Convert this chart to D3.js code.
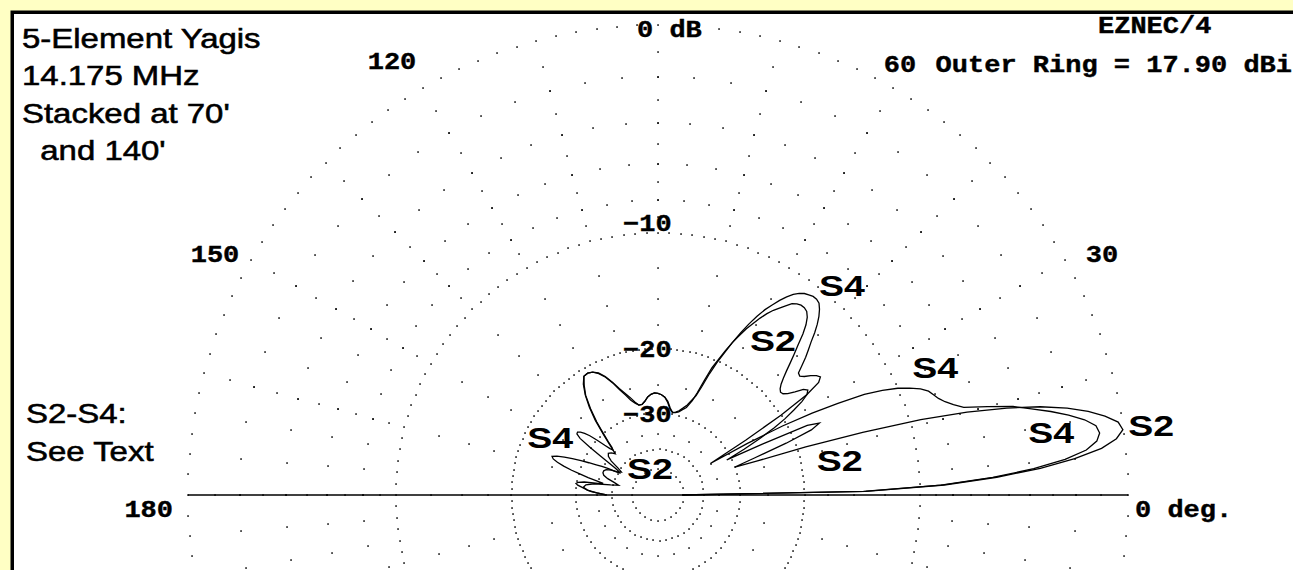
<!DOCTYPE html>
<html>
<head>
<meta charset="utf-8">
<script src="https://cdn.jsdelivr.net/npm/d3@7"></script>
<style>
  html, body { margin: 0; padding: 0; background: #FFFFC4; }
  svg { display: block; }
</style>
</head>
<body>
<svg id="chart" width="1293" height="570"></svg>
<script>
// ---- pattern data: elevation angle (deg) and gain relative to outer ring (dB) ----
const s2Angles = [0,1,2,3,4,5,6,7,8,9,10,11,12,13,14,15,16,17,18,19,20,21,22,23,24,25,26,27,28,29,30,31,32,33,34,35,36,37,38,39,40,41,42,43,44,45,46,47,48,49,50,51,52,53,54,55,56,57,58,59,60,61,62,63,64,65,66,67,68,69,70,72,74,76,78,80,82,84,86,88,90,92,94,96,98,100,102,104,106,108,110,112,114,116,118,120,122,124,126,128,130,132,134,136,138,140,142,144,146,148,150,152,154,156,158,160,162,164,166,168,170,172,174,176,178,180];
const s2Gain = [-51,-14,-8.5,-5.6,-3.5,-2.0,-0.9,-0.3,-0.02,-0.15,-0.6,-1.2,-2.0,-3.1,-4.6,-6.6,-9.3,-13.5,-19,-26,-30,-26,-21,-17.8,-16.8,-18,-24,-31,-27,-24,-21.5,-19.8,-18.5,-17.3,-16.5,-16.2,-16.5,-17.3,-18,-18.4,-18.5,-18.3,-17.9,-17.3,-16.6,-15.8,-15.0,-14.2,-13.3,-12.6,-12.1,-11.8,-11.7,-11.7,-11.8,-12.0,-12.4,-12.8,-13.2,-13.7,-14.3,-15.0,-15.7,-16.6,-17.5,-18.6,-19.8,-21,-23,-25,-26.5,-28,-28.6,-29.2,-29.5,-29.6,-29,-27.8,-26.9,-26.5,-26.3,-26.2,-26.4,-26.8,-27.5,-28,-28,-27.5,-26.8,-25.7,-24.6,-23.3,-22.2,-21.4,-20.9,-20.7,-20.8,-21.6,-22.9,-24.7,-27,-30,-33,-35.5,-34.5,-34,-34.5,-36,-39,-41,-40,-37.5,-36,-35.5,-35.5,-36,-37.5,-40,-42,-39,-34,-32,-31.5,-32.5,-35,-38];

const s4Angles = [0,1,2,3,4,5,6,7,8,9,10,11,12,13,14,15,16,17,18,19,20,21,22,23,24,25,26,27,28,29,30,31,32,33,34,35,36,37,38,39,40,41,42,43,44,45,46,47,48,49,50,51,52,53,54,55,56,57,58,59,60,61,62,63,64,65,66,67,68,69,70,72,74,76,78,80,82,84,86,88,90,92,94,96,98,100,102,104,106,108,110,112,114,116,118,120,122,124,126,128,129,130,131,132,133,134,135,136,137,138,139,140,141,142,143,144,145,146,147,148,149,150,151,152,153,154,155,156,157,158,159,160,161,162,163,164,165,166,167,168,169,170,171,172,173,174,175,176,177,178,179,180];
const s4Gain = [-51,-14.2,-8.7,-5.8,-3.8,-2.4,-1.5,-1.05,-0.9,-1.0,-1.4,-2.0,-2.7,-3.5,-4.3,-5.5,-6.7,-7.2,-7.6,-7.9,-8.1,-8.3,-8.7,-9.3,-10.0,-11.0,-12.3,-14.5,-17,-20.5,-26,-35,-26,-20,-16.5,-15.0,-14.6,-14.8,-15.2,-15.7,-16.0,-15.9,-15.2,-14.5,-13.9,-13.3,-12.6,-12.0,-11.5,-11.1,-10.8,-10.7,-10.7,-10.8,-10.9,-11.1,-11.4,-11.8,-12.3,-12.9,-13.5,-14.3,-15.2,-16.3,-17.5,-18.9,-20.2,-21.8,-23.9,-25.5,-26.2,-27.5,-28.3,-29,-29.4,-29.6,-28.8,-27.6,-26.9,-26.5,-26.3,-26.2,-26.4,-26.8,-27.5,-28,-28,-27.3,-26.3,-25.4,-24.4,-23.2,-22.1,-21.3,-20.9,-20.7,-20.8,-21.8,-23.0,-25.0,-26.2,-27.4,-29,-30.5,-32,-33.6,-34.3,-33.5,-32,-30,-28.3,-27.3,-26.6,-26.2,-26.3,-27.2,-29.8,-33,-36,-38.5,-40,-40.5,-39,-36.5,-34.5,-33,-31.2,-29.5,-27.8,-26.4,-25.2,-24.5,-24.8,-25.6,-26.8,-28.4,-30.3,-32.2,-34.5,-36.5,-35,-31.5,-30.2,-29.8,-30.2,-31,-31.8,-32.5,-33.5,-35,-36.5,-38];

// ---- chart furniture ----
const ringLevels = [0, -2, -4, -6, -8, -10, -20, -30, -40, -50];
const spokeAngles = d3.range(0, 360, 15);
const spokeLevels = [-1, -2, -3, -4, -5, -6, -7, -8, -9, -12.5, -15, -17.5, -25, -35];
const ringLabelLevels = [-10, -20, -30];
const ringLabelText = ["\u221210", "\u221220", "\u221230"];
const angleTicks = [0, 30, 60, 120, 150, 180];
const angleTickText = ["0 deg.", "30", "60", "120", "150", "180"];
const titleLines = ["5-Element Yagis", "14.175 MHz", "Stacked at 70'", "  and 140'"];
const noteLines = ["S2-S4:", "See Text"];

// ---- geometry ----
const W = 1293, H = 570;
const cx = 658, cy = 495, R = 470;
const svg = d3.select("#chart");

// ARRL log-periodic radius: each 2 dB shrinks the radius by a factor 0.89.
const rMin = R * Math.pow(0.89, 25);                       // radius of the -50 dB ring
const radius = d3.scaleLog().domain([rMin, R]).range([-50, 0]);
const r = db => radius.invert(db);
// elevation angle (deg, counter-clockwise from +x) -> d3 radial angle (clockwise from up)
const ang = d3.scaleLinear().domain([0, 180]).range([Math.PI / 2, -Math.PI / 2]);
const pt = (deg, db) => {
  const a = ang(deg), rr = r(db);
  return [cx + rr * Math.sin(a), cy - rr * Math.cos(a)];
};

// frame
svg.append("rect").attr("x", 0).attr("y", 0).attr("width", W).attr("height", H).attr("fill", "#FFFFC4");
svg.append("rect").attr("x", 10.5).attr("y", 10.5).attr("width", W).attr("height", H).attr("fill", "#000");
svg.append("rect").attr("x", 14).attr("y", 14).attr("width", W).attr("height", H).attr("fill", "#fff");

const plot = svg.append("g");

// dotted rings
function ringStep(level) {
  if (level === 0 || level === -10 || level === -20) return 2.5;
  if (level === -30) return 5;
  if (level === -40) return 8;
  if (level === -50) return 15;
  return 5;
}
const dots = [];
ringLevels.forEach(lv => {
  const st = ringStep(lv);
  d3.range(0, 360, st).forEach(a => dots.push(pt(a, lv)));
});
spokeAngles.forEach(a => spokeLevels.forEach(lv => dots.push(pt(a, lv))));
plot.append("g").selectAll("rect").data(dots).join("rect")
  .attr("x", d => Math.round(d[0]) - 0.75).attr("y", d => Math.round(d[1]) - 0.75)
  .attr("width", 1.6).attr("height", 1.6).attr("fill", "#111");

// horizon
plot.append("line")
  .attr("x1", pt(180, 0)[0]).attr("y1", cy).attr("x2", pt(0, 0)[0]).attr("y2", cy)
  .attr("stroke", "#000").attr("stroke-width", 1.6);

// pattern traces
const trace = d3.lineRadial()
  .angle(d => ang(d[0]))
  .radius(d => r(d[1]))
  .curve(d3.curveLinear);
const series = [d3.zip(s2Angles, s2Gain), d3.zip(s4Angles, s4Gain)];
plot.append("g").attr("transform", `translate(${cx},${cy})`)
  .selectAll("path").data(series).join("path")
  .attr("d", trace).attr("fill", "none").attr("stroke", "#000").attr("stroke-width", 1.3);

// text helpers
const mono = "'Liberation Mono', 'DejaVu Sans Mono', monospace";
const sans = "'Liberation Sans', Arial, sans-serif";
const MONO_ADV = 16.2;   // rendered advance per character
function monoText(x, y, str, anchor) {
  const w = str.length * MONO_ADV;
  const x0 = anchor === "end" ? x - w : anchor === "middle" ? x - w / 2 : x;
  svg.append("text").attr("x", x0).attr("y", y)
    .attr("font-family", mono).attr("font-weight", "bold").attr("font-size", 24)
    .attr("textLength", w).attr("lengthAdjust", "spacingAndGlyphs")
    .style("white-space", "pre")
    .attr("fill", "#000").attr("stroke", "#000").attr("stroke-width", 0.4).text(str);
}
function sansText(x, y, str, size, sx) {
  svg.append("text").attr("transform", `translate(${x},${y}) scale(${sx},1)`)
    .attr("font-family", sans).attr("font-size", size)
    .style("white-space", "pre").attr("fill", "#000")
    .attr("stroke", "#000").attr("stroke-width", 0.55).text(str);
}

// ring labels
ringLabelLevels.forEach((lv, i) => {
  const y = cy - r(lv) + (lv === -10 ? -2 : 9);
  monoText(cx - 35, y, ringLabelText[i], "start");
});

// angle labels
const tickPos = {0: [1135, 517, "start"], 30: [1102, 262, "middle"], 60: [900, 72, "middle"],
                 120: [392, 69, "middle"], 150: [215, 262, "middle"], 180: [173, 517, "end"]};
angleTicks.forEach((a, i) => {
  const p = tickPos[a];
  monoText(p[0], p[1], angleTickText[i], p[2]);
});
monoText(637, 37, "0 dB", "start");
monoText(1098, 33, "EZNEC/4", "start");
monoText(1292, 72, "Outer Ring = 17.90 dBi", "end");

// title block
titleLines.forEach((t, i) => sansText(22, 48 + i * 37.3, t, 27, 1.22));
noteLines.forEach((t, i) => sansText(26, 423 + i * 38, t, 27, 1.22));

// trace labels, centred at (elevation deg, dB)
const traceLabelSpots = [
  ["S4", 48.8, -8.94], ["S2", 53.4, -15.3], ["S4", 24.8, -7.4], ["S2", 8.1, 1.0],
  ["S4", 9.1, -2.85], ["S2", 10.9, -16.0], ["S4", 151.8, -23.1], ["S2", 106.5, -48.3]
];
svg.append("g").selectAll("text").data(traceLabelSpots).join("text")
  .attr("transform", d => { const p = pt(d[1], d[2]); return `translate(${p[0]},${p[1] + 11}) scale(1.25,1)`; })
  .attr("text-anchor", "middle")
  .attr("font-family", sans).attr("font-weight", "bold").attr("font-size", 30)
  .attr("fill", "#000").text(d => d[0]);
</script>
</body>
</html>
